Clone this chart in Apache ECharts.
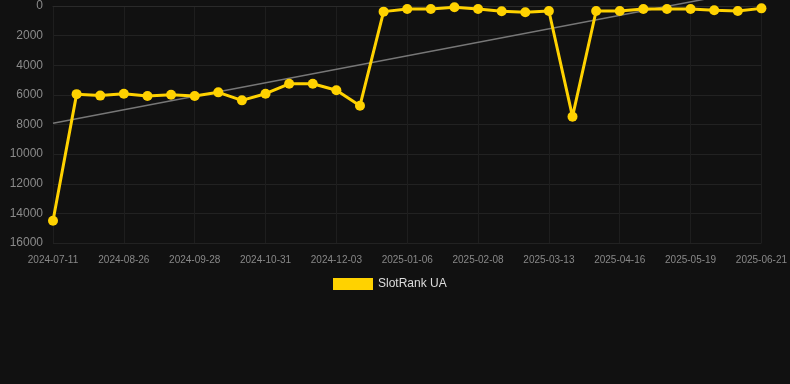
<!DOCTYPE html>
<html>
<head>
<meta charset="utf-8">
<script src="https://cdn.jsdelivr.net/npm/echarts@6/dist/echarts.min.js"></script>
<style>
  html, body { margin: 0; padding: 0; background: #111111; }
  #chart { width: 790px; height: 384px; }
</style>
</head>
<body>
<div id="chart"></div>
<script>
var dates = [
  '2024-07-11', '2024-07-26', '2024-08-10', '2024-08-26', '2024-09-06', '2024-09-17',
  '2024-09-28', '2024-10-09', '2024-10-20', '2024-10-31', '2024-11-11', '2024-11-22',
  '2024-12-03', '2024-12-14', '2024-12-25', '2025-01-06', '2025-01-17', '2025-01-28',
  '2025-02-08', '2025-02-19', '2025-03-02', '2025-03-13', '2025-03-24', '2025-04-05',
  '2025-04-16', '2025-04-27', '2025-05-08', '2025-05-19', '2025-05-30', '2025-06-10',
  '2025-06-21'
];

var rankUA = [
  14500, 5950, 6050, 5920, 6070, 5990, 6070, 5830, 6370, 5920, 5250,
  5250, 5690, 6730, 380, 200, 200, 90, 200, 360, 420, 340,
  7470, 340, 340, 200, 200, 200, 290, 340, 160
];

// linear trend: first and last point only
var trendStart = 7920;
var trendEnd = -1190;

var trend = dates.map(function (d, i) {
  if (i === 0) return trendStart;
  if (i === dates.length - 1) return trendEnd;
  return null;
});

var myChart = echarts.init(document.getElementById('chart'));

var option = {
  backgroundColor: '#111111',
  animation: false,
  textStyle: { fontFamily: 'Liberation Sans, Arial, sans-serif' },
  grid: { left: 53, right: 27, top: 6, bottom: 141 },
  legend: {
    data: ['SlotRank UA'],
    top: 278,
    left: 333,
    icon: 'rect',
    itemWidth: 40,
    itemHeight: 12,
    padding: 0,
    textStyle: { color: '#dddddd', fontSize: 12 }
  },
  xAxis: {
    type: 'category',
    boundaryGap: false,
    data: dates,
    axisLine: { lineStyle: { color: '#2a2a2a' } },
    axisTick: { show: false },
    axisLabel: { color: '#888888', fontSize: 10, interval: 2, margin: 12 },
    splitLine: { show: true, interval: 2, lineStyle: { color: '#1e1e1e' } }
  },
  yAxis: {
    type: 'value',
    inverse: true,
    min: 0,
    max: 16000,
    interval: 2000,
    axisLine: { show: false },
    axisTick: { show: false },
    axisLabel: {
      color: '#8a8a8a',
      fontSize: 12,
      margin: 10,
      formatter: function (v) { return String(v); }
    },
    splitLine: { lineStyle: { color: '#222222' } }
  },
  series: [
    {
      name: 'SlotRank UA',
      type: 'line',
      data: rankUA,
      symbol: 'circle',
      symbolSize: 10,
      itemStyle: { color: '#FFD200' },
      lineStyle: { color: '#FFD200', width: 3 },
      z: 3
    },
    {
      name: 'trend',
      type: 'line',
      data: trend,
      connectNulls: true,
      symbol: 'none',
      clip: false,
      silent: true,
      lineStyle: { color: '#777777', width: 1.5 },
      z: 2
    }
  ]
};

myChart.setOption(option);
</script>
</body>
</html>
